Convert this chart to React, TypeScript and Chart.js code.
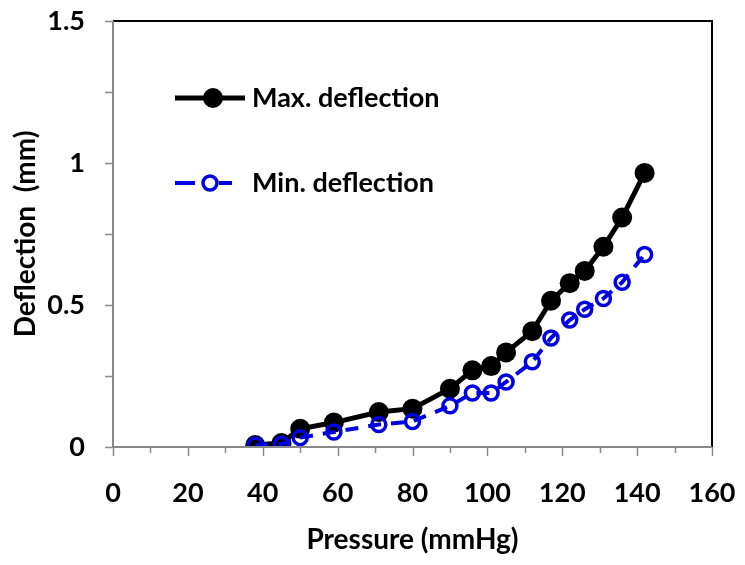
import React, { useEffect, useRef } from "react";
import { Chart, registerables } from "chart.js";

Chart.register(...registerables);

const pressure = [38, 45, 50, 59, 71, 80, 90, 96, 101, 105, 112, 117, 122, 126, 131, 136, 142];
const maxDeflection = [0.007, 0.014, 0.064, 0.086, 0.123, 0.135, 0.205, 0.27, 0.285, 0.333, 0.408, 0.515, 0.577, 0.62, 0.705, 0.808, 0.965];
const minDeflection = [0.007, 0.01, 0.033, 0.053, 0.079, 0.09, 0.145, 0.19, 0.19, 0.229, 0.3, 0.384, 0.447, 0.485, 0.523, 0.58, 0.678];
const seriesNames = ["Max. deflection", "Min. deflection"];
const xTitle = "Pressure (mmHg)";
const yTitle = "Deflection  (mm)";
const xMax = 160;
const xStep = 20;
const yMax = 1.5;
const yStep = 0.5;

const FONT = "Lato, 'Open Sans', sans-serif";
const BLUE = "rgb(0,0,225)";

const decorPlugin = {
  id: "decor",
  afterDraw(chart: any) {
    const { ctx, chartArea } = chart;
    const xs = chart.scales.x;
    const ys = chart.scales.y;
    const { left, right, top, bottom } = chartArea;
    ctx.save();
    ctx.strokeStyle = "#000";
    ctx.lineWidth = 2;
    ctx.beginPath();
    ctx.moveTo(left, top);
    ctx.lineTo(right, top);
    ctx.lineTo(right, bottom);
    ctx.stroke();
    ctx.strokeStyle = "#888";
    ctx.lineWidth = 2;
    ctx.beginPath();
    ctx.moveTo(left, top);
    ctx.lineTo(left, bottom);
    ctx.lineTo(right, bottom);
    ctx.stroke();
    ctx.lineWidth = 1.5;
    for (let v = 0; v <= xMax + 1e-9; v += xStep / 2) {
      const px = Math.round(xs.getPixelForValue(v)) + 0.5;
      const major = Math.abs(v / xStep - Math.round(v / xStep)) < 1e-6;
      ctx.beginPath();
      ctx.moveTo(px, bottom);
      ctx.lineTo(px, bottom + (major ? 9 : 6));
      ctx.stroke();
    }
    for (let v = 0; v <= yMax + 1e-9; v += yStep / 2) {
      const py = Math.round(ys.getPixelForValue(v)) + 0.5;
      ctx.beginPath();
      ctx.moveTo(left, py);
      ctx.lineTo(left - 8, py);
      ctx.stroke();
    }
    const datasets = chart.data.datasets;
    const rows = [top + 77, top + 162];
    datasets.forEach((ds: any, i: number) => {
      const y = rows[i];
      ctx.strokeStyle = ds.borderColor;
      ctx.lineWidth = ds.borderWidth;
      ctx.lineCap = "butt";
      if (i === 0) {
        ctx.beginPath();
        ctx.moveTo(left + 62, y);
        ctx.lineTo(left + 132, y);
        ctx.stroke();
        ctx.fillStyle = ds.pointBackgroundColor;
        ctx.beginPath();
        ctx.arc(left + 100, y, ds.pointRadius, 0, Math.PI * 2);
        ctx.fill();
      } else {
        ctx.beginPath();
        ctx.moveTo(left + 62, y);
        ctx.lineTo(left + 82, y);
        ctx.moveTo(left + 106, y);
        ctx.lineTo(left + 119, y);
        ctx.stroke();
        ctx.lineWidth = ds.pointBorderWidth;
        ctx.strokeStyle = ds.pointBorderColor;
        ctx.beginPath();
        ctx.arc(left + 97, y, ds.pointRadius, 0, Math.PI * 2);
        ctx.stroke();
      }
      ctx.fillStyle = "#000";
      ctx.font = `bold 27px ${FONT}`;
      ctx.textBaseline = "middle";
      ctx.textAlign = "left";
      ctx.fillText(ds.label, left + 139, y);
    });
    ctx.restore();
  },
};

export default function App() {
  const ref = useRef<HTMLCanvasElement>(null);
  useEffect(() => {
    if (!ref.current) return;
    const chart = new Chart(ref.current, {
      type: "scatter",
      data: {
        datasets: [
          {
            label: seriesNames[0],
            data: pressure.map((p, i) => ({ x: p, y: maxDeflection[i] })),
            showLine: true,
            order: 1,
            borderColor: "#000",
            borderWidth: 5,
            pointRadius: 10,
            pointBackgroundColor: "#000",
            pointBorderColor: "#000",
            pointBorderWidth: 0,
          },
          {
            label: seriesNames[1],
            data: pressure.map((p, i) => ({ x: p, y: minDeflection[i] })),
            showLine: true,
            order: 0,
            borderColor: BLUE,
            borderWidth: 4,
            borderDash: [13, 10],
            pointRadius: 7,
            pointBackgroundColor: "rgba(0,0,0,0)",
            pointBorderColor: BLUE,
            pointBorderWidth: 3.5,
          },
        ],
      },
      options: {
        animation: false,
        responsive: false,
        devicePixelRatio: 1,
        layout: { padding: { left: 0, top: 21, right: 33, bottom: 0 } },
        plugins: { legend: { display: false }, tooltip: { enabled: false } },
        scales: {
          x: {
            type: "linear",
            min: 0,
            max: xMax,
            grid: { display: false, drawTicks: false },
            border: { display: false },
            ticks: {
              stepSize: xStep,
              maxRotation: 0,
              padding: 30,
              color: "#000",
              font: { family: FONT, size: 27, weight: "bold" },
            },
            title: {
              display: true,
              text: xTitle,
              color: "#000",
              font: { family: FONT, size: 28, weight: "bold" },
              padding: { top: 0, bottom: 8 },
            },
            afterFit: (s: any) => {
              s.height = 118;
              s.paddingLeft = 0;
              s.paddingRight = 0;
            },
          },
          y: {
            type: "linear",
            min: 0,
            max: yMax,
            grid: { display: false, drawTicks: false },
            border: { display: false },
            ticks: {
              stepSize: yStep,
              padding: 28,
              color: "#000",
              font: { family: FONT, size: 27, weight: "bold" },
              callback: (v: any) => String(v),
            },
            title: {
              display: true,
              text: yTitle,
              color: "#000",
              font: { family: FONT, size: 28, weight: "bold" },
              padding: { top: 9, bottom: 0 },
            },
            afterFit: (s: any) => {
              s.width = 113;
              s.paddingTop = 0;
              s.paddingBottom = 0;
            },
          },
        },
      },
      plugins: [decorPlugin],
    } as any);
    return () => chart.destroy();
  }, []);
  return (
    <div style={{ position: "fixed", left: 0, top: 0, width: 745, height: 565, background: "#fff" }}>
      <canvas ref={ref} width={745} height={565} style={{ width: 745, height: 565 }} />
    </div>
  );
}
